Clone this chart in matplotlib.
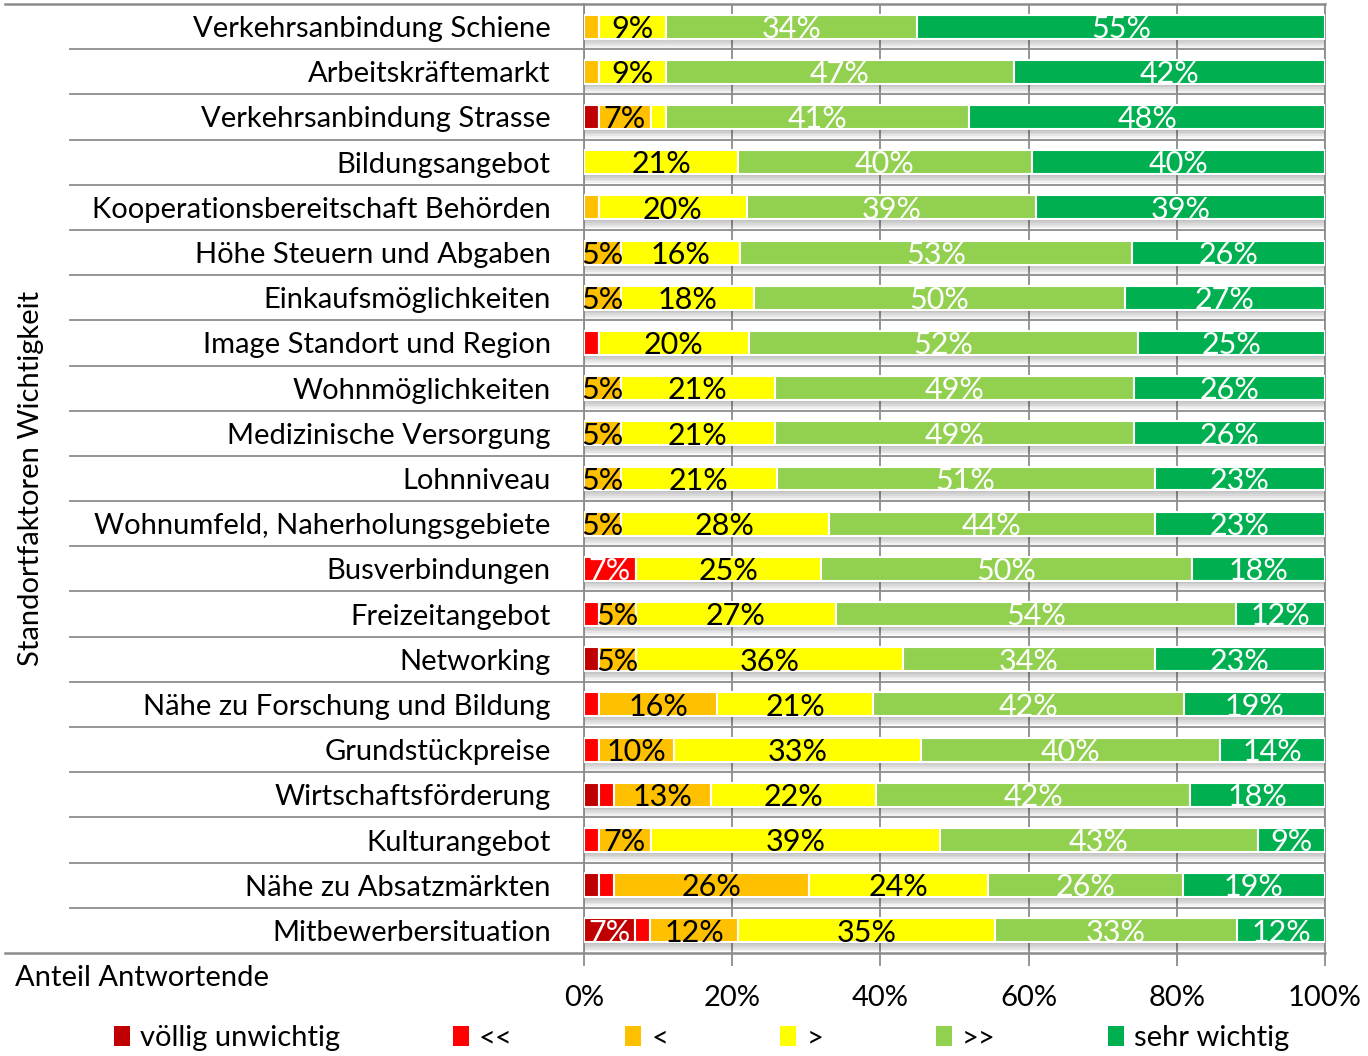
import matplotlib
matplotlib.use("Agg")
import matplotlib.pyplot as plt
from matplotlib.patches import Patch
import matplotlib.transforms as mtransforms
import numpy as np

plt.rcParams["font.family"] = ["Lato", "DejaVu Sans"]

categories = [
    "Verkehrsanbindung Schiene",
    "Arbeitskräftemarkt",
    "Verkehrsanbindung Strasse",
    "Bildungsangebot",
    "Kooperationsbereitschaft Behörden",
    "Höhe Steuern und Abgaben",
    "Einkaufsmöglichkeiten",
    "Image Standort und Region",
    "Wohnmöglichkeiten",
    "Medizinische Versorgung",
    "Lohnniveau",
    "Wohnumfeld, Naherholungsgebiete",
    "Busverbindungen",
    "Freizeitangebot",
    "Networking",
    "Nähe zu Forschung und Bildung",
    "Grundstückpreise",
    "Wirtschaftsförderung",
    "Kulturangebot",
    "Nähe zu Absatzmärkten",
    "Mitbewerbersituation",
]

voellig_unwichtig = [0, 0, 2, 0, 0, 0, 0, 0, 0, 0, 0, 0, 0, 0, 2, 0, 0, 2, 0, 2, 7]
sehr_unwichtig = [0, 0, 0, 0, 0, 0, 0, 2, 0, 0, 0, 0, 7, 2, 0, 2, 2, 2, 2, 2, 2]
unwichtig = [2, 2, 7, 0, 2, 5, 5, 0, 5, 5, 5, 5, 0, 5, 5, 16, 10, 13, 7, 26, 12]
wichtig = [9, 9, 2, 21, 20, 16, 18, 20, 21, 21, 21, 28, 25, 27, 36, 21, 33, 22, 39, 24, 35]
eher_wichtig = [34, 47, 41, 40, 39, 53, 50, 52, 49, 49, 51, 44, 50, 54, 34, 42, 40, 42, 43, 26, 33]
sehr_wichtig = [55, 42, 48, 40, 39, 26, 27, 25, 26, 26, 23, 23, 18, 12, 23, 19, 14, 18, 9, 19, 12]

series_names = ["völlig unwichtig", "<<", "<", ">", ">>", "sehr wichtig"]
series = [voellig_unwichtig, sehr_unwichtig, unwichtig, wichtig, eher_wichtig, sehr_wichtig]
colors = ["#C00000", "#FF0000", "#FFC000", "#FFFF00", "#92D050", "#00B050"]
text_colors = ["white", "white", "black", "black", "white", "white"]

grey = "#8C8C8C"
fs = 21

fig = plt.figure(figsize=(13.68, 10.56), dpi=100)
ax = fig.add_axes([584 / 1368, 1 - 953 / 1056, 741 / 1368, 949 / 1056])

data = np.array(series, dtype=float)
totals = data.sum(axis=0)
widths = data / totals * 100
y = np.arange(len(categories))
bar_h = 0.53

# soft shadow under each bar
for k in range(1, 6):
    ax.barh(y + 0.04 * k, 100.4, height=bar_h, left=0, color="#000000",
            alpha=0.05, linewidth=0, zorder=2)

left = np.zeros(len(categories))
for i, (name, col) in enumerate(zip(series_names, colors)):
    ax.barh(y, widths[i], left=left, height=bar_h, color=col,
            edgecolor="white", linewidth=1.5, zorder=3, label=name)
    for j in range(len(categories)):
        v = data[i, j]
        if v >= 5:
            ax.text(left[j] + widths[i, j] / 2, y[j] + 0.05, f"{int(v)}%",
                    ha="center", va="center", fontsize=fs + 1,
                    color=text_colors[i], zorder=5)
    left += widths[i]

ax.set_xlim(0, 100)
ax.set_ylim(len(categories) - 0.5, -0.5)

ax.set_xticks([0, 20, 40, 60, 80, 100])
ax.set_xticklabels(["0%", "20%", "40%", "60%", "80%", "100%"], fontsize=fs)
ax.tick_params(axis="x", direction="out", length=9, width=1.3, color=grey, pad=14)
ax.grid(axis="x", color=grey, linewidth=1.3, zorder=0)
ax.set_axisbelow(True)

ax.set_yticks(y)
ax.set_yticklabels(categories, fontsize=fs)
ax.tick_params(axis="y", length=0, pad=24)

for s in ["top", "bottom"]:
    ax.spines[s].set_visible(False)
for s in ["left", "right"]:
    ax.spines[s].set_color(grey)
    ax.spines[s].set_linewidth(1.3)

# row separators reaching into the label column
trans = mtransforms.blended_transform_factory(ax.transAxes, ax.transData)
for b in np.arange(0.5, len(categories) - 1, 1.0):
    ax.plot([-0.694, 1], [b, b], color=grey, linewidth=1.3, transform=trans,
            clip_on=False, zorder=1)
for b in [-0.5, len(categories) - 0.5]:
    ax.plot([-0.781, 1], [b, b], color=grey, linewidth=1.8, transform=trans,
            clip_on=False, zorder=1)

fig.text(31 / 1368, 1 - 478 / 1056, "Standortfaktoren Wichtigkeit",
         rotation=90, ha="center", va="center", fontsize=fs)
fig.text(15 / 1368, 1 - 978 / 1056, "Anteil Antwortende",
         ha="left", va="center", fontsize=fs)

handles = [Patch(facecolor=c, edgecolor="none") for c in colors]
fig.legend(handles, series_names, loc="center", bbox_to_anchor=(0.513, 1 - 1038 / 1056),
           ncol=6, frameon=False, fontsize=fs, handlelength=0.55, handleheight=0.7,
           handletextpad=0.35, columnspacing=3.85, borderaxespad=0, borderpad=0)

fig.savefig("out.png", dpi=100)
